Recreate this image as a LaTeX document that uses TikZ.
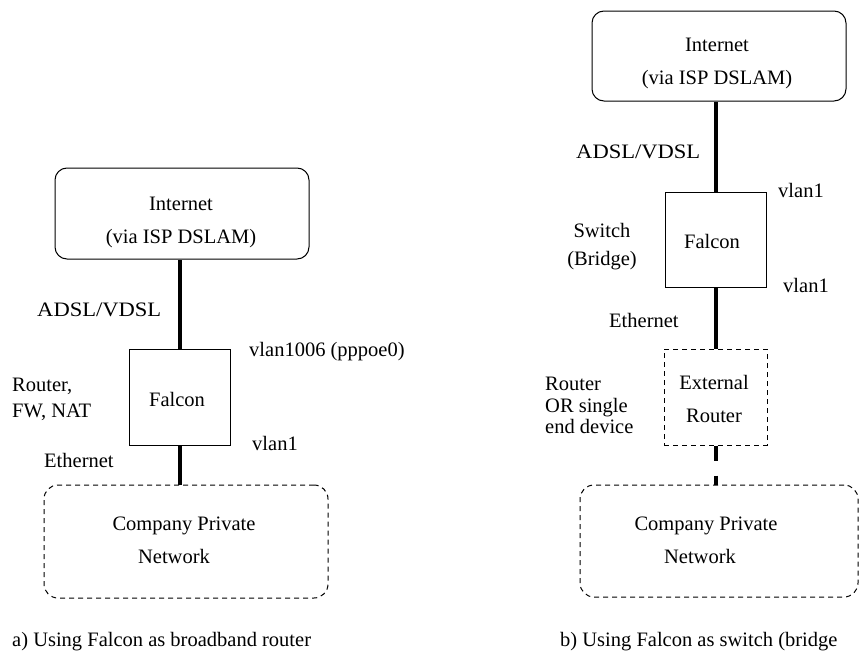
\documentclass[tikz,border=0pt]{standalone}
\usepackage{fontspec}
\setmainfont{Liberation Serif}
\begin{document}
\begin{tikzpicture}[x=1pt,y=-1pt,
  lbl/.style={inner sep=0pt,anchor=base,font=\fontsize{20.5}{24}\selectfont},
  lbll/.style={lbl,anchor=base west},
  wide/.style={xscale=1.1},
  box/.style={draw,line width=1pt,inner sep=0pt},
  rbox/.style={box,rounded corners=12pt},
  dbox/.style={box,dash pattern=on 5pt off 4pt},
  link/.style={line width=4pt},
  dlink/.style={line width=4pt,dash pattern=on 15pt off 15pt},
]
\useasboundingbox (0,0) rectangle (863,664);
% ---------- left diagram ----------
\node[rbox,minimum width=254pt,minimum height=91pt] (inetA) at (182,213.5) {};
\node[box,minimum width=101pt,minimum height=96pt] (falconA) at (180,397) {};
\node[dbox,rounded corners=14pt,minimum width=284pt,minimum height=113pt] (netA) at (186,541.5) {};
\draw[link] (falconA.north) -- (falconA.north |- inetA.south);
\draw[link] (falconA.south) -- (falconA.south |- netA.north);
\node[lbl] (tA1) at (181,210) {Internet};
\node[lbl] (tA2) at (181,243) {(via ISP DSLAM)};
\node[lbll,wide] (tA3) at (37,316) {ADSL/VDSL};
\node[lbll] (tA4) at (249,356) {vlan1006 (pppoe0)};
\node[lbll] (tA5) at (12,391) {Router,};
\node[lbll] (tA6) at (12,417) {FW, NAT};
\node[lbl] (tA7) at (177,406) {Falcon};
\node[lbll] (tA8) at (252,450) {vlan1};
\node[lbll] (tA9) at (44,467) {Ethernet};
\node[lbl] (tA10) at (184,530) {Company Private};
\node[lbl] (tA11) at (174,563) {Network};
\node[lbll] (capA) at (12,646) {a) Using Falcon as broadband router};
% ---------- right diagram ----------
\node[rbox,minimum width=254pt,minimum height=90pt] (inetB) at (719,56) {};
\node[box,minimum width=101pt,minimum height=95pt] (falconB) at (715.5,239.5) {};
\node[dbox,minimum width=103pt,minimum height=96pt] (extB) at (715.5,397) {};
\node[dbox,rounded corners=14pt,minimum width=278pt,minimum height=112pt] (netB) at (719,541) {};
\draw[link] (falconB.north) -- (falconB.north |- inetB.south);
\draw[link] (falconB.south) -- (falconB.south |- extB.north);
\draw[dlink] (extB.south) -- (extB.south |- netB.north);
\node[lbl] (tB1) at (717,51) {Internet};
\node[lbl] (tB2) at (717,84) {(via ISP DSLAM)};
\node[lbll,wide] (tB3) at (576,158) {ADSL/VDSL};
\node[lbll] (tB4) at (778,197) {vlan1};
\node[lbl] (tB5) at (602,237) {Switch};
\node[lbl] (tB6) at (602,265) {(Bridge)};
\node[lbl] (tB7) at (712,248) {Falcon};
\node[lbll] (tB8) at (783,292) {vlan1};
\node[lbll] (tB9) at (609,327) {Ethernet};
\node[lbll] (tB10) at (545,390) {Router};
\node[lbll] (tB11) at (545,412) {OR single};
\node[lbll] (tB12) at (545,433) {end device};
\node[lbl] (tB13) at (714,389) {External};
\node[lbl] (tB14) at (714,422) {Router};
\node[lbl] (tB15) at (706,530) {Company Private};
\node[lbl] (tB16) at (700,563) {Network};
\node[lbll] (capB) at (560,646) {b) Using Falcon as switch (bridge};
\end{tikzpicture}
\end{document}
